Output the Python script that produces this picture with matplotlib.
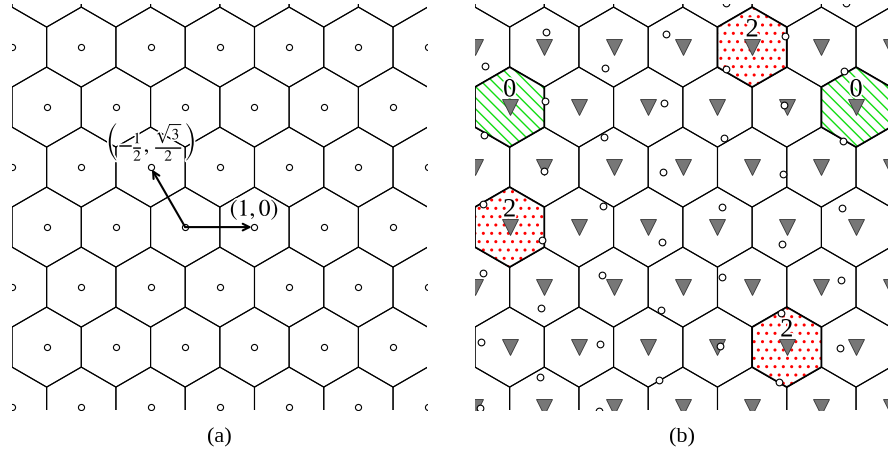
import numpy as np
import matplotlib.pyplot as plt
from matplotlib.patches import RegularPolygon
import matplotlib.patheffects as pe

plt.rcParams['font.family'] = 'Liberation Serif'
plt.rcParams['mathtext.fontset'] = 'stix'
plt.rcParams['hatch.linewidth'] = 1.0

# lattice basis shown in (a)
b1 = np.array([1.0, 0.0])
b2 = np.array([-0.5, np.sqrt(3) / 2])

# (b) cells that hold 0 or 2 of the second point set, as (i, j) lattice indices
zero_cells = [(-1, 2), (4, 2)]
two_cells = [(3, 3), (-2, 0), (1, -2)]

# (b) second point set (small circles)
pts_x = [-2.35, -2.37, -2.38, -2.39, -2.42, -2.43,
         -1.48, -1.49, -1.50, -1.53, -1.55, -1.56,
         -0.62, -0.64, -0.65, -0.67, -0.69, -0.71,
         0.25, 0.23, 0.22, 0.20, 0.19, 0.16,
         1.13, 1.12, 1.09, 1.07, 1.06, 1.04,
         1.98, 1.96, 1.95, 1.93, 1.91, 1.89,
         2.85, 2.83, 2.81, 2.80, 2.78, 2.77]
pts_y = [2.33, 1.33, 0.34, -0.66, -1.66, -2.61,
         2.81, 1.82, 0.81, -0.18, -1.17, -2.17,
         2.30, 1.30, 0.31, -0.69, -1.69, -2.66,
         2.78, 1.79, 0.79, -0.21, -1.20, -2.21,
         3.24, 2.28, 1.28, 0.29, -0.72, -1.72,
         2.76, 1.76, 0.76, -0.24, -1.24, -2.23,
         3.23, 2.25, 1.24, 0.27, -0.76, -1.75]

xlim = (-2.50, 3.49)
ylim = (-2.64, 3.22)
r_cell = 1 / np.sqrt(3)

lat = np.array([i * b1 + j * b2 for j in range(-4, 5) for i in range(-5, 8)])


def draw_cells(ax):
    for p in lat:
        ax.add_patch(RegularPolygon(p, 6, radius=r_cell, fill=False,
                                    ec='black', lw=0.8, zorder=1))
    ax.set_xlim(*xlim)
    ax.set_ylim(*ylim)
    ax.axis('off')


fig = plt.figure(figsize=(8.88, 4.51), dpi=100)
ax1 = fig.add_axes([12 / 888, 41 / 451, 415 / 888, 406 / 451])
ax2 = fig.add_axes([475 / 888, 41 / 451, 415 / 888, 406 / 451])

halo = [pe.withStroke(linewidth=2.5, foreground='white')]

# (a)
draw_cells(ax1)
ax1.plot(lat[:, 0], lat[:, 1], 'o', ms=4.4, mfc='white', mec='black', mew=0.8, zorder=3)
for tip in (b1, b2):
    ax1.annotate('', xy=tip, xytext=(0, 0),
                 arrowprops=dict(arrowstyle='->', lw=1.5, color='black',
                                 shrinkA=0, shrinkB=2, mutation_scale=12), zorder=4)
ax1.text(1.0, 0.25, r'$(1,0)$', fontsize=17, ha='center', va='center',
         path_effects=halo, zorder=5)
ax1.text(-0.5, 1.24, r'$\left(-\frac{1}{2},\,\frac{\sqrt{3}}{2}\right)$', fontsize=16,
         ha='center', va='center', path_effects=halo, zorder=5)

# (b)
draw_cells(ax2)
for cells, label, col, hatch in [(zero_cells, '0', '#11dd11', '\\\\\\'),
                                 (two_cells, '2', 'red', '..')]:
    for i, j in cells:
        c = i * b1 + j * b2
        ax2.add_patch(RegularPolygon(c, 6, radius=r_cell, fc='white', ec=col,
                                     lw=0, hatch=hatch, zorder=2))
        ax2.add_patch(RegularPolygon(c, 6, radius=r_cell, fill=False, ec='black',
                                     lw=1.3, zorder=3))
        ax2.text(c[0], c[1] + 0.24, label, fontsize=19, ha='center', va='center',
                 path_effects=halo, zorder=5)
ax2.plot(lat[:, 0], lat[:, 1], 'v', ms=12, mfc='#777777', mec='#333333', mew=0.6, zorder=4)
ax2.plot(pts_x, pts_y, 'o', ms=4.8, mfc='white', mec='black', mew=0.8, zorder=6)

fig.text(219.5 / 888, 1 - 438 / 451, '(a)', fontsize=16, ha='center', va='center')
fig.text(682.5 / 888, 1 - 438 / 451, '(b)', fontsize=16, ha='center', va='center')

fig.savefig('out.png', dpi=100)
